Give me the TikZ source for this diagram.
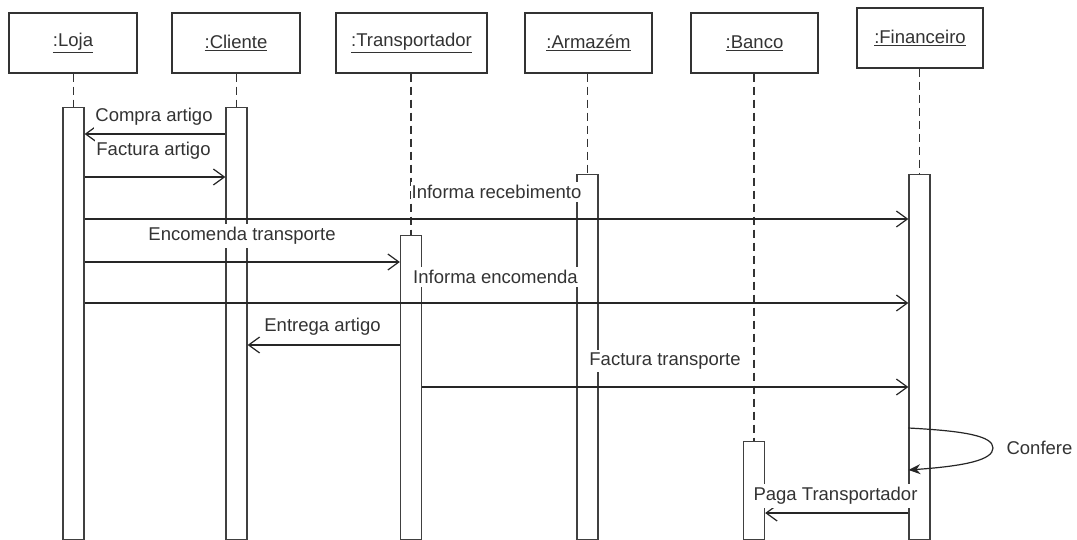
\documentclass[tikz,border=0pt]{standalone}
\usepackage{fontspec}
\setmainfont{Liberation Sans}
\usetikzlibrary{arrows.meta}
\begin{document}
\begin{tikzpicture}[x=1pt,y=-1pt,
  every node/.style={font=\fontsize{18.5}{22}\selectfont, text=black!80},
  head/.style={draw=black!80, line width=1.4pt, fill=white, minimum height=60pt, inner sep=0pt},
  life/.style={draw=black!80, line width=1.3pt, dash pattern=on 8pt off 5pt},
  act/.style={draw=black!75, line width=1.3pt, fill=white, minimum width=21pt, inner sep=0pt, anchor=north},
  msg/.style={draw=black!85, line width=1.2pt, -{Straight Barb[length=11pt,width=16pt,line width=1.2pt]}},
  selfmsg/.style={draw=black!85, line width=1.2pt, -{Stealth[length=12pt,width=10pt]}},
  lbl/.style={fill=white, inner xsep=1pt, inner ysep=3pt},
]
\useasboundingbox[fill=white] (0,0) rectangle (1077,540);

% object headers
\node[head, minimum width=128pt] (hLoja) at (73,43)    {\underline{:Loja}};
\node[head, minimum width=128pt] (hCli)  at (236,43)   {\underline{:Cliente}};
\node[head, minimum width=151pt] (hTra)  at (411.5,43) {\underline{:Transportador}};
\node[head, minimum width=127pt] (hArm)  at (588.5,43) {\underline{:Armazém}};
\node[head, minimum width=127pt] (hBan)  at (754.5,43) {\underline{:Banco}};
\node[head, minimum width=126pt] (hFin)  at (920,38)   {\underline{:Financeiro}};

% activation bars
\node[act, minimum height=432pt] (aLoja) at (73.5,107) {};
\node[act, minimum height=432pt] (aCli)  at (236.5,107) {};
\node[act, minimum height=304pt] (aTra)  at (411,235) {};
\node[act, minimum height=365pt] (aArm)  at (587.5,174) {};
\node[act, minimum height=98pt]  (aBan)  at (754,441) {};
\node[act, minimum height=365pt] (aFin)  at (919.5,174) {};

% lifelines
\draw[life] (aLoja.north |- hLoja.south) -- (aLoja.north);
\draw[life] (aCli.north |- hCli.south) -- (aCli.north);
\draw[life] (aTra.north |- hTra.south) -- (aTra.north);
\draw[life] (aArm.north |- hArm.south) -- (aArm.north);
\draw[life] (aBan.north |- hBan.south) -- (aBan.north);
\draw[life] (aFin.north |- hFin.south) -- (aFin.north);

% messages
\draw[msg] (aCli.west |- 0,134) -- (aLoja.east |- 0,134);
\draw[msg] (aLoja.east |- 0,177) -- (aCli.west |- 0,177);
\draw[msg] (aLoja.east |- 0,219) -- (aFin.west |- 0,219);
\draw[msg] (aLoja.east |- 0,262) -- (aTra.west |- 0,262);
\draw[msg] (aLoja.east |- 0,303) -- (aFin.west |- 0,303);
\draw[msg] (aTra.west |- 0,345) -- (aCli.east |- 0,345);
\draw[msg] (aTra.east |- 0,387) -- (aFin.west |- 0,387);
\coordinate (cfA) at (aFin.west |- 0,428);
\coordinate (cfB) at (aFin.west |- 0,470);
\draw[selfmsg] (cfA) .. controls (965,431) and (993,436) .. (993,448)
               .. controls (993,460) and (965,466) .. (cfB);
\draw[msg] (aFin.west |- 0,513) -- (aBan.east |- 0,513);

% message labels
\node[lbl] (lCompra)  at (154,117)   {Compra artigo};
\node[lbl] (lFactA)   at (153.5,151) {Factura artigo};
\node[lbl] (lInfRec)  at (496.5,192) {Informa recebimento};
\node[lbl] (lEncTr)   at (242,236)   {Encomenda transporte};
\node[lbl] (lInfEnc)  at (495.5,277) {Informa encomenda};
\node[lbl] (lEntrega) at (322.5,327) {Entrega artigo};
\node[lbl] (lFactT)   at (665,361)   {Factura transporte};
\node      (lConfere) at (1039.5,448) {Confere};
\node[lbl] (lPaga)    at (835.5,496) {Paga Transportador};
\end{tikzpicture}
\end{document}
